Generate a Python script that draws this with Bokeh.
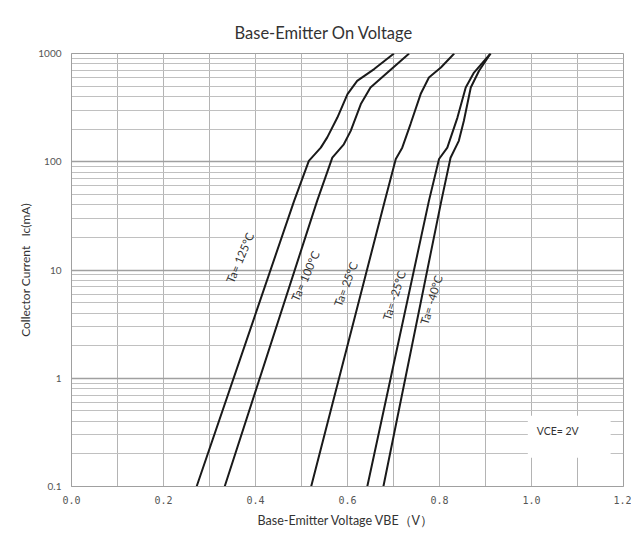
from bokeh.plotting import figure
from bokeh.models import FixedTicker, Label, BoxAnnotation, CustomJSTickFormatter
from bokeh.embed import file_html
from bokeh.resources import INLINE

# ---------------- data ----------------
title_text = "Base-Emitter On Voltage"
x_label = "Base-Emitter Voltage  VBE（V）"
y_label = "Collector Current\u00a0\u00a0\u00a0Ic(mA)"

x_ticks = [0.0, 0.2, 0.4, 0.6, 0.8, 1.0, 1.2]
x_tick_labels = ["0.0", "0.2", "0.4", "0.6", "0.8", "1.0", "1.2"]
y_ticks = [0.1, 1, 10, 100, 1000]
y_tick_labels = ["0.1", "1", "10", "100", "1000"]

# VBE (V) vs Ic (mA)
v_125 = [0.272, 0.484, 0.516, 0.542, 0.556, 0.578, 0.600, 0.621, 0.658, 0.701]
i_125 = [0.1, 43.5, 102, 135, 168, 256, 422, 558, 718, 1000]

v_100 = [0.333, 0.534, 0.567, 0.592, 0.607, 0.629, 0.650, 0.687, 0.734]
i_100 = [0.1, 43.5, 109, 145, 193, 341, 485, 667, 1000]

v_25 = [0.521, 0.681, 0.705, 0.719, 0.737, 0.759, 0.777, 0.803, 0.832]
i_25 = [0.1, 43.5, 106, 135, 223, 422, 600, 743, 1000]

v_m25 = [0.643, 0.777, 0.799, 0.817, 0.839, 0.857, 0.875, 0.911]
i_m25 = [0.1, 43.5, 106, 135, 256, 485, 667, 1000]

v_m40 = [0.678, 0.804, 0.824, 0.842, 0.853, 0.868, 0.886, 0.911]
i_m40 = [0.1, 43.5, 109, 156, 239, 485, 692, 1000]

series_names = ["Ta= 125°C", "Ta= 100°C", "Ta= 25°C", "Ta= -25°C", "Ta= -40°C"]
note_text = "VCE= 2V"

# label placement (annotation positions)
label_v = [0.366, 0.508, 0.596, 0.701, 0.782]
label_i = [13.0, 8.8, 7.4, 5.8, 5.3]
label_angle = [67, 66, 69, 72, 73]

# ---------------- figure ----------------
FONT = "Lato"
p = figure(frame_width=552, frame_height=433,
           x_range=(0, 1.2), y_range=(0.1, 1000), y_axis_type="log",
           output_backend="svg", toolbar_location=None,
           min_border_left=71, min_border_right=8,
           min_border_top=53, min_border_bottom=43,
           background_fill_color="white", border_fill_color="white")

p.title.text = title_text
p.title.text_font = FONT
p.title.text_font_size = "16.5px"
p.title.text_font_style = "normal"
p.title.text_color = "#333333"
p.title.align = "left"
p.title.offset = 163
p.title.standoff = 22

p.outline_line_color = "#a0a0a0"

# grids
grid_x = [round(k * 0.1, 1) for k in range(13)]
p.xgrid.ticker = FixedTicker(ticks=grid_x)
p.xgrid.grid_line_color = "#b4b4b4"
p.xgrid.grid_line_width = 1

minor_y = []
for d in [0.1, 1, 10, 100]:
    for m in range(2, 10):
        minor_y.append(d * m)
p.ygrid.ticker = FixedTicker(ticks=y_ticks, minor_ticks=minor_y)
p.ygrid.grid_line_color = "#a0a0a0"
p.ygrid.grid_line_width = 1.3
p.ygrid.minor_grid_line_color = "#c0c0c0"
p.ygrid.minor_grid_line_width = 1

fmt_code = """
const i = tvals.findIndex(t => Math.abs(t - tick) <= 1e-6 * Math.max(1, Math.abs(t)));
return i >= 0 ? tlabels[i] : '';
"""

p.xaxis.ticker = FixedTicker(ticks=x_ticks)
p.xaxis.formatter = CustomJSTickFormatter(args=dict(tvals=x_ticks, tlabels=x_tick_labels), code=fmt_code)
p.yaxis.ticker = FixedTicker(ticks=y_ticks)
p.yaxis.formatter = CustomJSTickFormatter(args=dict(tvals=y_ticks, tlabels=y_tick_labels), code=fmt_code)

for ax in (p.xaxis[0], p.yaxis[0]):
    ax.axis_line_color = "#a0a0a0"
    ax.major_tick_line_color = None
    ax.minor_tick_line_color = None
    ax.major_label_text_color = "#555555"
    ax.axis_label_text_color = "#333333"
    ax.axis_label_text_font = FONT
    ax.axis_label_text_font_style = "normal"
    ax.axis_label_text_font_size = "12px"

p.xaxis.axis_label_text_font_size = "12.5px"
p.xaxis.major_label_text_font = "DejaVu Sans Mono"
p.xaxis.major_label_text_font_size = "10px"
p.xaxis.major_label_standoff = 3
p.yaxis.major_label_text_font = FONT
p.yaxis.major_label_text_font_size = "10px"
p.yaxis.major_label_standoff = 4

p.xaxis.axis_label = x_label
p.xaxis.axis_label_standoff = 6
p.yaxis.axis_label = y_label
p.yaxis.axis_label_standoff = 2

# curves
curves = [(v_125, i_125), (v_100, i_100), (v_25, i_25), (v_m25, i_m25), (v_m40, i_m40)]
for v, i in curves:
    p.line(v, i, line_color="#1a1a1a", line_width=2)

for name, lv, li, la in zip(series_names, label_v, label_i, label_angle):
    p.add_layout(Label(x=lv, y=li, text=name, angle=la, angle_units="deg",
                       text_align="center", text_baseline="middle",
                       text_font=FONT, text_font_size="11.5px", text_color="#333333"))

# VCE note box
p.add_layout(BoxAnnotation(left=0.992, right=1.172, bottom=0.184, top=0.45,
                           fill_color="white", fill_alpha=1.0, line_color=None))
p.add_layout(Label(x=1.057, y=0.327, text=note_text, text_align="center",
                   text_baseline="middle", text_font=FONT, text_font_size="10.5px",
                   text_color="#333333"))

open("out.html", "w").write(file_html(p, INLINE))
